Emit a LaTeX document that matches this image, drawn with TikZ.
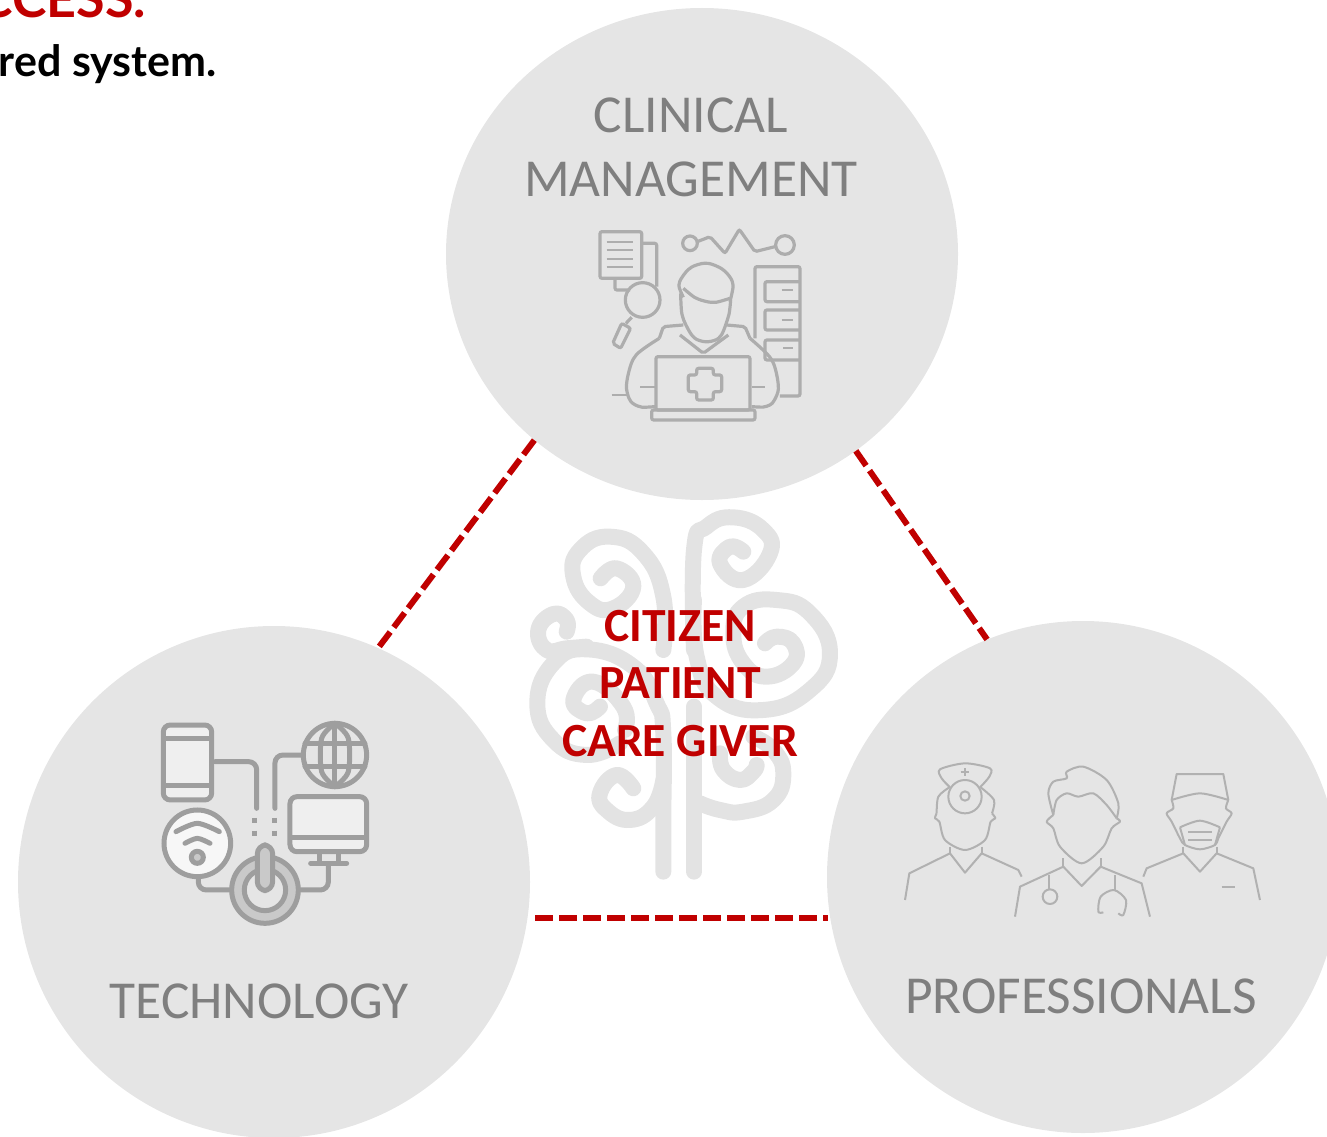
\documentclass[tikz,border=0pt]{standalone}
\usepackage{xcolor}
\usepackage{fontspec}
\usetikzlibrary{shapes.geometric}
\setmainfont{Carlito}
\newfontfamily\headfont{Lato}
\definecolor{discgray}{HTML}{E5E5E5}
\definecolor{labelgray}{HTML}{7F7F7F}
\definecolor{linkred}{HTML}{C00000}
\definecolor{treegray}{HTML}{E3E3E3}
\definecolor{icongray}{HTML}{9E9E9E}

\begin{document}
\begin{tikzpicture}[x=1pt,y=-1pt]
    \tikzstyle{disc}=[circle,fill=discgray,minimum size=512pt,inner sep=0pt]
    \tikzstyle{label}=[anchor=base,text=labelgray,font=\fontsize{53.4}{53.4}\selectfont,inner sep=0pt]
    \tikzstyle{centre}=[anchor=base,text=linkred,font=\fontsize{47.6}{47.6}\selectfont\bfseries,inner sep=0pt]
    \tikzstyle{heada}=[anchor=base east,text=linkred,font=\fontsize{52}{52}\selectfont\headfont\bfseries,inner sep=0pt]
    \tikzstyle{headb}=[anchor=base east,text=black,font=\fontsize{43}{43}\selectfont\headfont\bfseries,inner sep=0pt]
    \tikzstyle{link}=[draw=linkred,line width=6pt,dash pattern=on 18pt off 6pt]
    \tikzstyle{branch}=[draw=treegray,line width=16pt,line cap=round,line join=round]
\clip (0,0) rectangle (1327,1137);

\node[ellipse,fill=discgray,minimum width=512pt,minimum height=492pt,inner sep=0pt] (clin) at (702,254) {};
\node[disc] (tech) at (274,882) {};
\node[disc] (prof) at (1083,877) {};
\coordinate (gapl) at (535,918);
\coordinate (gapr) at (828,918);

\draw[link] (clin.228.6) -- (tech.66.3);
\draw[link] (clin.308.4) -- (prof.112.3);
\draw[link] (gapl) -- (gapr);

\node[heada] (heacs) at (146,18) {CCESS.};
\node[headb] (heasy) at (217,77) {red system.};

\node[label] (clina) at (691,132) {CLINICAL};
\node[label] (clinb) at (691,196) {MANAGEMENT};
\node[label] (techa) at (259,1018) {TECHNOLOGY};
\node[label] (profa) at (1081,1013) {PROFESSIONALS};

\begin{scope}[shift={(510,500)},x=0.3333pt,y=-0.3333pt]
\draw[branch] plot[smooth] coordinates {(552,1115) (552,900) (552,620)};
\draw[branch] plot[smooth,tension=0.8] coordinates {(460,1115) (460,960) (460,700) (440,610) (370,500) (230,448) (130,490) (82,610) (130,720) (230,765) (330,730)};
\draw[branch] plot[smooth,tension=0.8] coordinates {(345,690) (340,620) (250,545) (190,600) (230,640) (270,620)};
\draw[branch] plot[smooth,tension=0.8] coordinates {(460,450) (460,290) (400,160) (300,110) (210,150) (190,230) (240,310) (310,325) (370,260) (320,205) (272,235)};
\draw[branch] plot[smooth,tension=0.8] coordinates {(170,395) (170,360) (130,342) (85,390) (110,450) (170,445) (230,440)};
\draw[branch] plot[smooth,tension=0.8] coordinates {(460,840) (430,920) (360,960) (290,930) (270,880) (320,825) (370,865)};
\draw[branch] plot[smooth,tension=0.8] coordinates {(552,450) (552,150) (590,80) (670,52) (760,90) (780,160) (700,240) (630,190) (660,140) (700,155)};
\draw[branch] plot[smooth,tension=0.8] coordinates {(552,300) (560,470) (620,590) (760,630) (900,570) (960,460) (900,340) (800,300) (700,320) (670,400) (700,490) (770,530) (850,490) (850,430) (800,410) (765,430)};
\draw[branch] plot[smooth,tension=0.8] coordinates {(570,910) (630,930) (700,935) (790,900) (820,820) (790,750) (730,710)};
\draw[branch] plot[smooth,tension=0.8] coordinates {(630,760) (640,810) (690,840) (730,815) (740,795)};
\end{scope}

\node[centre] (cita) at (680,641) {CITIZEN};
\node[centre] (citb) at (680,698) {PATIENT};
\node[centre] (citc) at (680,756) {CARE GIVER};

\begin{scope}[shift={(580,210)},x=0.3333pt,y=-0.3333pt,draw=icongray!85,line width=3.2pt,rounded corners=2pt]
\draw (60,65) rectangle (185,205);
\foreach \y in {95,120,148,172} {
    \draw[line width=2pt] (80,\y) -- (160,\y);
}
\draw (185,100) -- (230,100) -- (230,230);
\draw (105,205) -- (105,240) -- (150,240);
\draw (188,270) circle (52);
\draw (155,322) -- (138,340);
\draw (125,340) -- (152,355) -- (122,415) -- (98,400) -- cycle;
\draw (330,100) circle (22);
\draw (352,95) -- (390,80) -- (435,130) -- (478,58) -- (525,125) -- (585,110);
\draw (615,105) circle (28);
\draw plot[smooth] coordinates {(310,262) (298,220) (330,175) (380,160) (430,180) (458,220) (450,275)};
\draw plot[smooth] coordinates {(310,235) (350,265) (400,277) (450,265)};
\draw plot[smooth] coordinates {(302,250) (308,320) (340,380) (380,395) (420,380) (445,320) (452,270)};
\draw (238,385) -- (250,350) -- (310,345);
\draw (440,345) -- (495,350) -- (510,385);
\draw (300,375) -- (370,430) -- (445,375);
\draw plot[smooth] coordinates {(238,385) (165,440) (140,520) (150,570) (180,590) (225,590)};
\draw plot[smooth] coordinates {(510,385) (575,450) (595,530) (580,575) (555,590) (515,590)};
\draw (228,440) rectangle (510,600);
\draw (215,600) -- (525,600) -- (525,630) -- (215,630) -- cycle;
\draw (350,475) -- (400,475) -- (400,495) -- (425,495) -- (425,545) -- (400,545) -- (400,570) -- (350,570) -- (350,545) -- (325,545) -- (325,495) -- (350,495) -- cycle;
\draw[line width=2pt] (180,530) -- (225,530);
\draw[line width=2pt] (515,530) -- (555,530);
\draw[line width=2pt] (95,555) -- (140,555);
\draw (600,558) -- (660,558) -- (660,170) -- (525,170) -- (525,385);
\draw (660,215) -- (555,215) -- (555,275) -- (660,275);
\draw (660,300) -- (555,300) -- (555,360) -- (660,360);
\draw (660,390) -- (555,390) -- (555,450) -- (660,450);
\draw[line width=2pt] (605,240) -- (640,240);
\draw[line width=2pt] (605,330) -- (640,330);
\draw[line width=2pt] (610,415) -- (640,415);
\end{scope}

\begin{scope}[shift={(140,700)},x=0.3333pt,y=-0.3333pt,draw=icongray,line width=5pt,line cap=round]
\draw[fill=white!40!discgray,rounded corners=7pt] (70,75) rectangle (215,300);
\draw (75,115) -- (210,115);
\draw (75,255) -- (210,255);
\draw[rounded corners=8pt] (225,185) -- (350,185) -- (350,325);
\draw[rounded corners=8pt] (405,325) -- (405,165) -- (490,165);
\foreach \x in {345,405} {
    \foreach \y in {362,400} {
        \draw[line cap=butt] (\x,\y-8) -- (\x,\y+8);
    }
}
\draw (585,165) circle (95);
\draw (495,130) -- (675,130);
\draw (495,200) -- (675,200);
\draw plot[smooth] coordinates {(585,70) (545,115) (545,215) (585,260)};
\draw plot[smooth] coordinates {(585,70) (625,115) (625,215) (585,260)};
\draw (585,70) -- (585,260);
\draw[fill=white!40!discgray,rounded corners=7pt] (450,290) rectangle (680,455);
\draw (455,412) -- (675,412);
\draw (540,460) -- (540,488);
\draw (595,460) -- (595,488);
\draw (512,490) -- (620,490);
\draw[rounded corners=8pt] (565,495) -- (565,570) -- (480,570);
\draw[fill=white!70!discgray] (172,430) circle (100);
\draw plot[smooth] coordinates {(108,395) (172,370) (238,395)};
\draw plot[smooth] coordinates {(135,430) (172,415) (210,430)};
\draw[fill=icongray!40!discgray] (172,472) circle (18);
\draw[rounded corners=8pt] (175,535) -- (175,570) -- (270,570);
\draw[fill=icongray!40!discgray] (375,570) circle (100);
\draw[fill=discgray] (375,570) circle (62);
\draw[fill=icongray!40!discgray,rounded corners=9pt] (352,435) rectangle (398,572);
\end{scope}

\begin{scope}[shift={(890,750)},x=0.3333pt,y=-0.3333pt,draw=icongray!80,line width=2pt,line join=round]
\draw plot[smooth] coordinates {(180,112) (155,85) (150,58) (225,40) (300,55) (298,80) (270,112)};
\draw (225,55) -- (225,78);
\draw (212,67) -- (238,67);
\draw (225,140) circle (50);
\draw (225,138) circle (14);
\draw plot[smooth] coordinates {(178,112) (145,140) (140,190)};
\draw plot[smooth] coordinates {(272,112) (312,150) (306,190)};
\draw plot[smooth] coordinates {(140,190) (135,205) (148,215) (165,270) (225,300) (285,270) (302,215) (316,205) (306,190)};
\draw (180,290) -- (180,310);
\draw (275,290) -- (275,310);
\draw (45,450) -- (58,370) -- (180,310) -- (225,368) -- (275,310) -- (385,360) -- (395,380);

\draw plot[smooth] coordinates {(490,195) (475,130) (490,95) (530,85) (530,65) (580,50) (650,90) (685,160) (680,205)};
\draw plot[smooth] coordinates {(490,195) (500,150) (530,130) (565,140) (610,130) (650,165) (680,205)};
\draw plot[smooth] coordinates {(490,195) (470,215) (490,235) (510,290) (575,340) (640,290) (665,235) (690,215) (680,205)};
\draw (520,325) -- (520,350);
\draw (632,325) -- (632,350);
\draw (375,500) -- (390,410) -- (520,350) -- (575,408) -- (632,350) -- (755,400) -- (780,500);
\draw (478,375) -- (478,418);
\draw (480,440) circle (22);
\draw (675,375) -- (675,420);
\draw plot[smooth] coordinates {(640,487) (625,485) (632,440) (672,420) (708,450) (700,495) (685,490)};

\draw (845,150) -- (860,72) -- (1000,72) -- (1015,150);
\draw plot[smooth] coordinates {(845,150) (930,130) (1015,150)};
\draw plot[smooth] coordinates {(845,150) (850,175) (830,190) (845,215) (870,265) (885,285) (930,298) (975,285) (985,265) (1010,215) (1025,190) (1008,175) (1015,150)};
\draw plot[smooth] coordinates {(870,232) (930,212) (990,232)};
\draw (870,232) -- (885,285);
\draw (990,232) -- (975,285);
\draw (895,245) -- (965,245);
\draw (895,270) -- (965,270);
\draw (880,290) -- (880,310);
\draw (980,290) -- (980,310);
\draw (760,380) -- (770,355) -- (880,310) -- (930,365) -- (980,310) -- (1090,355) -- (1110,450);
\draw (995,410) -- (1035,410);
\end{scope}
\end{tikzpicture}
\end{document}
